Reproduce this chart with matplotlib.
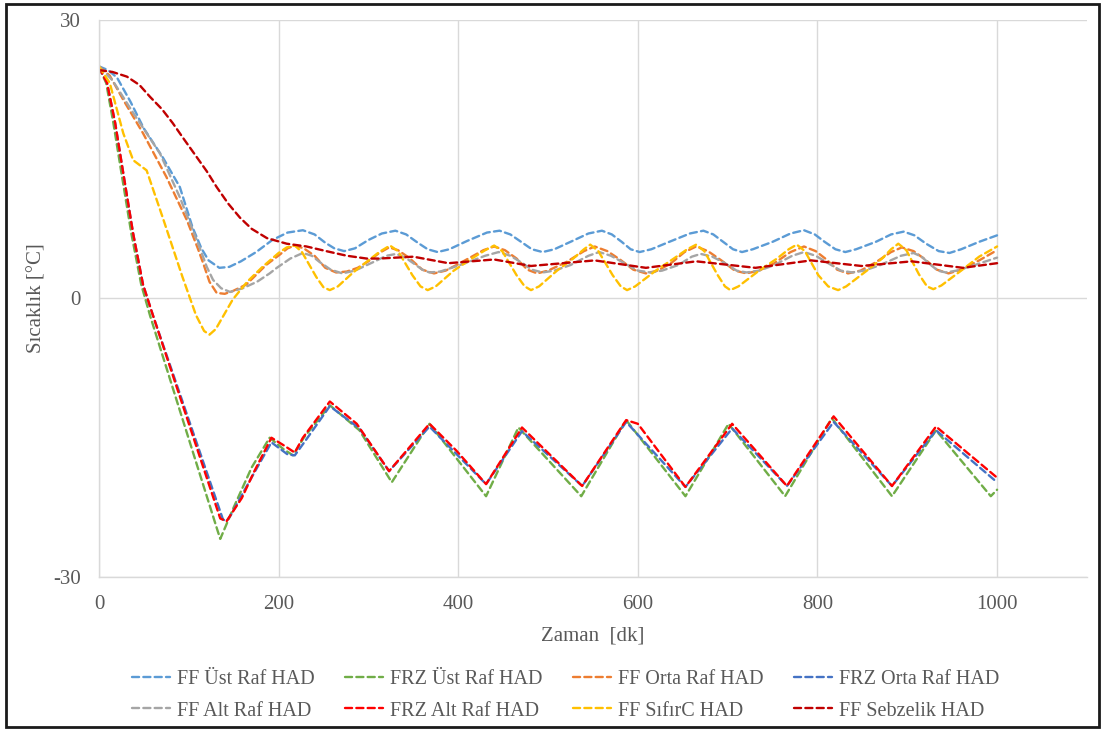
import matplotlib
matplotlib.use("Agg")
import matplotlib.pyplot as plt
from matplotlib.patches import Rectangle

# time axis [dk] and temperatures [°C]
t_ff_ust = [0, 10, 20, 35, 50, 71, 90, 104, 114, 122, 134, 145, 158, 175, 193, 210, 227, 240, 252,
            262, 273, 285, 300, 315, 330, 342, 355, 366, 377, 390, 410, 432, 446, 458, 470, 482,
            494, 507, 525, 545, 560, 571, 582, 592, 602, 615, 635, 658, 673, 684, 695, 706, 716,
            728, 750, 770, 785, 797, 808, 820, 831, 843, 865, 882, 896, 908, 921, 935, 947, 960,
            980, 1000]
ff_ust = [25, 24.6, 23.8, 21.2, 18.3, 15.2, 12.0, 7.7, 5.4, 4.1, 3.3, 3.4, 4.0, 5.0, 6.3, 7.1, 7.35,
          6.9, 6.0, 5.4, 5.1, 5.4, 6.3, 7.0, 7.3, 6.9, 6.0, 5.3, 5.0, 5.3, 6.2, 7.1, 7.3, 6.9, 6.1,
          5.3, 5.0, 5.3, 6.1, 7.0, 7.3, 6.9, 6.1, 5.3, 5.0, 5.3, 6.1, 7.0, 7.3, 6.9, 6.1, 5.3, 5.0,
          5.3, 6.1, 7.0, 7.35, 6.9, 6.1, 5.3, 5.0, 5.3, 6.1, 6.9, 7.2, 6.8, 5.9, 5.1, 4.9, 5.3, 6.1,
          6.8]

t_ff_orta = [0, 12, 27, 49, 75, 98, 110, 116, 123, 131, 140, 149, 164, 186, 201, 210, 218, 228,
             240, 252, 264, 276, 288, 300, 312, 323, 333, 345, 360, 373, 386, 400, 415, 428, 440,
             452, 465, 477, 488, 500, 520, 540, 552, 566, 580, 595, 609, 622, 637, 652, 665, 678,
             693, 708, 721, 735, 752, 770, 785, 798, 810, 822, 834, 848, 865, 882, 894, 907, 920,
             933, 946, 960, 980, 1000]
ff_orta = [25, 24.0, 21.4, 17.8, 13.1, 8.4, 5.4, 3.8, 1.8, 0.6, 0.5, 0.8, 1.5, 3.6, 4.7, 5.4, 5.7,
           5.4, 4.6, 3.3, 2.8, 2.9, 3.3, 4.0, 4.9, 5.5, 5.2, 4.4, 3.1, 2.7, 3.0, 3.7, 4.5, 5.2, 5.6,
           5.2, 4.3, 3.1, 2.7, 3.0, 3.9, 5.1, 5.6, 5.1, 4.2, 3.1, 2.7, 3.0, 3.8, 5.0, 5.6, 5.1, 4.1,
           3.0, 2.7, 3.0, 3.8, 5.0, 5.6, 5.1, 4.2, 3.1, 2.7, 3.0, 3.9, 5.0, 5.5, 5.1, 4.2, 3.1, 2.7,
           3.1, 4.1, 5.2]

t_ff_alt = [0, 15, 38, 68, 90, 112, 120, 127, 136, 146, 160, 176, 190, 198, 213, 227, 237, 246,
            258, 271, 285, 305, 320, 331, 341, 350, 360, 368, 380, 405, 430, 445, 458, 470, 482,
            494, 507, 525, 545, 557, 570, 585, 600, 614, 627, 645, 660, 670, 683, 697, 710, 721,
            735, 752, 772, 785, 798, 812, 826, 839, 852, 870, 893, 907, 916, 925, 934, 943, 955,
            975, 1000]
ff_alt = [25, 23.5, 20.0, 15.6, 10.9, 5.5, 3.4, 2.0, 1.1, 0.7, 1.1, 1.8, 2.7, 3.3, 4.3, 4.9, 4.6,
          3.9, 3.1, 2.7, 3.0, 3.9, 4.6, 4.8, 4.4, 3.8, 3.1, 2.8, 2.9, 3.7, 4.6, 5.0, 4.6, 3.9, 3.1,
          2.8, 3.0, 3.6, 4.6, 5.0, 4.6, 3.8, 3.0, 2.8, 3.0, 3.6, 4.5, 4.8, 4.5, 3.8, 3.0, 2.8, 3.0,
          3.6, 4.6, 5.0, 4.6, 3.8, 3.0, 2.8, 3.0, 3.6, 4.6, 4.9, 4.5, 3.7, 3.0, 2.8, 3.0, 3.6, 4.4]

t_ff_sifir = [0, 12, 27, 38, 53, 71, 93, 108, 117, 123, 130, 149, 165, 182, 200, 209, 218, 226,
              242, 250, 257, 266, 283, 300, 312, 324, 333, 349, 358, 366, 375, 395, 415, 430, 440,
              449, 465, 474, 481, 490, 510, 528, 540, 547, 556, 572, 581, 588, 597, 620, 640, 655,
              665, 674, 689, 697, 703, 712, 735, 755, 768, 777, 786, 801, 812, 823, 832, 855, 872,
              882, 890, 899, 913, 922, 929, 938, 960, 980, 1000]
ff_sifir = [25, 23.2, 17.8, 14.9, 13.8, 8.7, 2.3, -1.8, -3.5, -3.9, -3.3, -0.1, 1.8, 3.4, 4.9, 5.5,
            5.7, 5.0, 2.3, 1.2, 0.9, 1.3, 2.8, 4.1, 5.0, 5.7, 5.1, 2.5, 1.3, 0.9, 1.3, 3.0, 4.3, 5.2,
            5.7, 5.1, 2.5, 1.3, 0.9, 1.3, 3.0, 4.3, 5.3, 5.8, 5.1, 2.5, 1.3, 0.9, 1.3, 3.0, 4.3, 5.3,
            5.8, 5.1, 2.5, 1.3, 0.9, 1.3, 3.0, 4.3, 5.3, 5.8, 5.1, 2.5, 1.3, 0.9, 1.3, 3.0, 4.3, 5.3,
            5.9, 5.2, 2.6, 1.3, 1.0, 1.4, 3.0, 4.5, 5.6]

t_ff_sebze = [0, 15, 31, 45, 57, 70, 82, 95, 109, 120, 131, 144, 157, 170, 187, 209, 231, 253, 276,
              298, 312, 350, 389, 440, 481, 552, 609, 665, 731, 793, 849, 905, 962, 1000]
ff_sebze = [24.6, 24.4, 23.9, 23.0, 21.7, 20.4, 18.9, 17.1, 15.2, 13.7, 12.0, 10.2, 8.7, 7.5, 6.5,
            5.9, 5.6, 5.1, 4.6, 4.3, 4.3, 4.5, 3.8, 4.2, 3.5, 4.1, 3.3, 4.0, 3.3, 4.1, 3.5, 4.0, 3.3,
            3.8]

t_frz_ust = [0, 8, 16, 25, 36, 47, 57, 132, 135, 150, 170, 190, 205, 216, 228, 257, 290, 326, 368,
             431, 467, 537, 587, 653, 701, 764, 816, 883, 932, 993, 1000]
frz_ust = [24.9, 23.2, 18.9, 13.5, 7.0, 1.5, -1.9, -25.0, -25.9, -22.5, -18.2, -15.0, -16.2, -16.9,
           -15.0, -11.5, -14.2, -19.8, -13.5, -21.3, -13.9, -21.3, -13.1, -21.3, -13.5, -21.3,
           -12.9, -21.3, -14.2, -21.3, -20.6]

t_frz_orta = [0, 9, 18, 27, 38, 49, 60, 138, 142, 147, 160, 175, 192, 210, 218, 230, 257, 290, 323,
              368, 431, 471, 538, 587, 653, 705, 766, 818, 883, 932, 1000]
frz_orta = [24.9, 23.2, 18.9, 13.5, 7.0, 1.5, -1.8, -23.8, -24.0, -23.3, -21.0, -18.4, -15.5, -16.8,
            -16.9, -15.3, -11.6, -14.0, -18.6, -13.8, -20.0, -14.3, -20.2, -13.3, -20.3, -14.0,
            -20.2, -13.3, -20.2, -14.2, -19.8]

t_frz_alt = [0, 9, 18, 27, 38, 49, 60, 135, 142, 159, 173, 192, 207, 218, 227, 257, 287, 323, 368,
             398, 431, 471, 538, 587, 600, 653, 705, 766, 818, 883, 932, 1000]
frz_alt = [24.9, 23.2, 18.9, 13.5, 7.0, 1.5, -1.8, -23.7, -24.0, -21.5, -18.6, -15.0, -15.9, -16.6,
           -15.0, -11.1, -13.5, -18.6, -13.5, -16.4, -20.0, -13.9, -20.2, -13.1, -13.5, -20.3,
           -13.5, -20.2, -12.7, -20.2, -13.8, -19.3]

series = [
    ("FF Üst Raf HAD", t_ff_ust, ff_ust, "#5B9BD5"),
    ("FRZ Üst Raf HAD", t_frz_ust, frz_ust, "#70AD47"),
    ("FF Orta Raf HAD", t_ff_orta, ff_orta, "#ED7D31"),
    ("FRZ Orta Raf HAD", t_frz_orta, frz_orta, "#4472C4"),
    ("FF Alt Raf HAD", t_ff_alt, ff_alt, "#A5A5A5"),
    ("FRZ Alt Raf HAD", t_frz_alt, frz_alt, "#FF0000"),
    ("FF SıfırC HAD", t_ff_sifir, ff_sifir, "#FFC000"),
    ("FF Sebzelik HAD", t_ff_sebze, ff_sebze, "#C00000"),
]

x_ticks = [0, 200, 400, 600, 800, 1000]
y_ticks = [-30, 0, 30]

plt.rcParams['font.family'] = ['Liberation Serif', 'DejaVu Serif']
plt.rcParams['axes.unicode_minus'] = False
grey = "#595959"

fig = plt.figure(figsize=(11.05, 7.31), dpi=100)
ax = fig.add_axes([0.0896, 0.2107, 0.894, 0.762])

handles = []
for name, t, v, col in series:
    ln, = ax.plot(t, v, color=col, lw=1.7, linestyle=(0, (3, 1.8)), label=name,
                  dash_capstyle="round", solid_joinstyle="round")
    handles.append(ln)

ax.set_xlim(0, 1100)
ax.set_ylim(-30, 30)
ax.set_xticks(x_ticks)
ax.set_yticks(y_ticks)
ax.grid(True, color="#D9D9D9", lw=1.0)
ax.set_axisbelow(True)
for side in ["top", "right"]:
    ax.spines[side].set_visible(False)
for side in ["left", "bottom"]:
    ax.spines[side].set_color("#D9D9D9")
    ax.spines[side].set_linewidth(1.0)
ax.tick_params(length=0, labelsize=15, colors=grey)
ax.tick_params(axis="x", pad=13)
ax.tick_params(axis="y", pad=13)
ax.set_xlabel("Zaman  [dk]", fontsize=15, color=grey, labelpad=9)
ax.set_ylabel("Sıcaklık [°C]", fontsize=15, color=grey)
ax.yaxis.set_label_coords(-0.053, 0.5)

# legend is filled column by column, so reorder to read row by row like the original
order = [0, 4, 1, 5, 2, 6, 3, 7]
fig.legend([handles[i] for i in order], [series[i][0] for i in order],
           loc="center", bbox_to_anchor=(0.512, 0.049), ncol=4, frameon=False,
           fontsize=14.5, handlelength=1.9, columnspacing=1.5, handletextpad=0.35,
           labelspacing=0.62, labelcolor=grey)

# black frame around the whole picture
fig.patches.append(Rectangle((0.005, 0.005), 0.99, 0.99, transform=fig.transFigure,
                             fill=False, edgecolor="#1a1a1a", lw=2))

fig.savefig("out.png", dpi=100)
